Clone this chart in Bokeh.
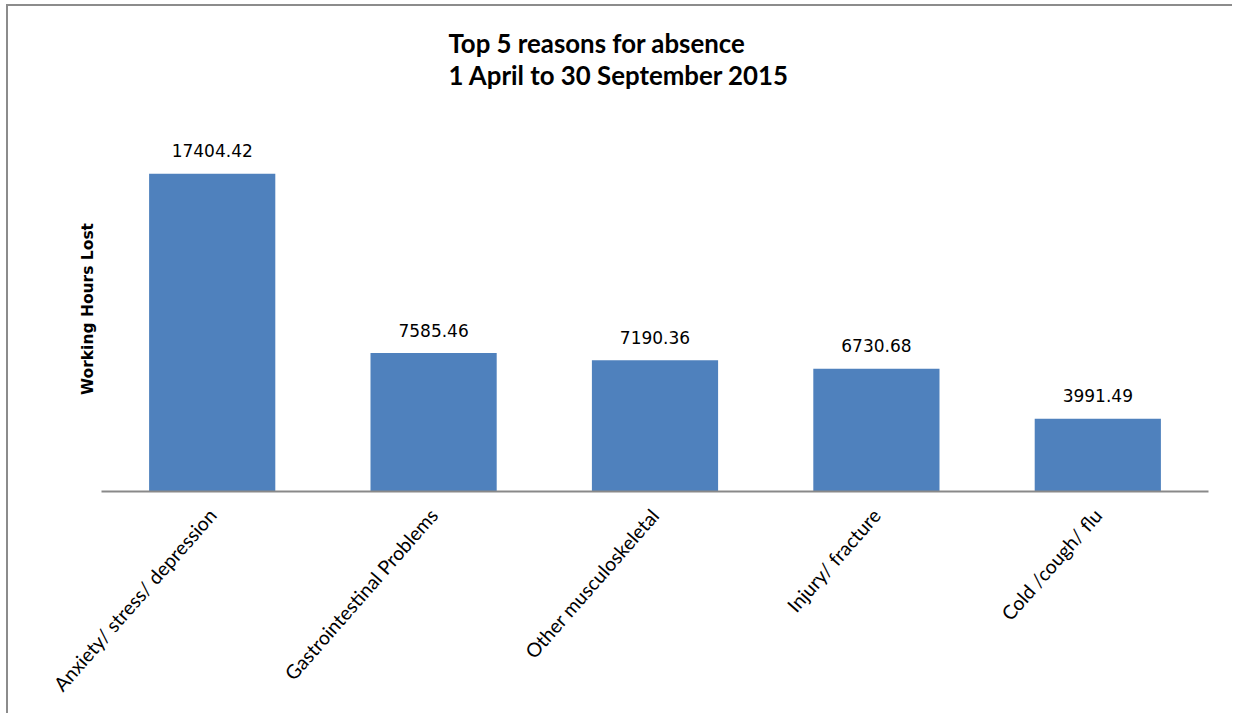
from bokeh.plotting import figure
from bokeh.models import ColumnDataSource, Range1d, Title, FixedTicker
from bokeh.core.properties import value
from bokeh.embed import file_html
from bokeh.resources import INLINE

categories = ["Anxiety/ stress/ depression", "Gastrointestinal Problems",
              "Other musculoskeletal", "Injury/ fracture", "Cold /cough/ flu"]
hours = [17404.42, 7585.46, 7190.36, 6730.68, 3991.49]
value_labels = ["17404.42", "7585.46", "7190.36", "6730.68", "3991.49"]

title_lines = ["Top 5 reasons for absence", "1 April to 30 September 2015"]
y_label = "Working Hours Lost"

W, H = 1234, 715
OX, OY = 8, 6            # canvas offset inside the bordered box
FL, FR, FT, FB = 101, 1208, 126, 491

p = figure(x_range=categories, y_range=Range1d(0, 20000),
           width=W - OX, height=H - OY,
           output_backend="svg", toolbar_location=None,
           min_border_left=FL - OX, min_border_right=W - FR,
           min_border_top=FT - OY, min_border_bottom=H - FB)
p.styles = {"margin-left": f"{OX}px", "margin-top": f"{OY}px",
            "box-shadow": "-2px -2px 0 0 #8c8c8c"}
p.outline_line_color = None
p.background_fill_color = "white"
p.border_fill_color = "white"
p.xgrid.grid_line_color = None
p.ygrid.grid_line_color = None

xa = p.below[0]
ya = p.left[0]

title = Title(text="\n".join(title_lines), align="left", offset=448 - FL,
              standoff=0, text_font="Lato", text_font_style="bold",
              text_font_size="25.8px", text_color="black", text_line_height=1.07)
for pad in (dict(left=0, right=0, top=0, bottom=36), (0, 0, 36, 0)):
    try:
        title.padding = pad
        break
    except Exception:
        pass
p.add_layout(title, "above")

src = ColumnDataSource(dict(cat=categories, hours=hours, lab=value_labels))
p.vbar(x="cat", top="hours", width=0.57, source=src,
       fill_color="#4F81BD", line_color=None)
p.text(x="cat", y="hours", text="lab", source=src, y_offset=-23,
       text_align="center", text_baseline="middle",
       text_font=value("DejaVu Sans"), text_font_size="17px", text_color="black")

xa.axis_line_color = "#898989"
xa.axis_line_width = 2
xa.major_tick_line_color = None
xa.minor_tick_line_color = None
xa.major_label_orientation = 0.85
xa.major_label_text_font = "Lato"
xa.major_label_text_font_size = "19.5px"
xa.major_label_text_color = "black"
xa.major_label_standoff = 14

ya.ticker = FixedTicker(ticks=[])
ya.axis_line_color = None
ya.major_tick_line_color = None
ya.minor_tick_line_color = None
ya.major_label_standoff = 0
ya.axis_label = y_label
ya.axis_label_standoff = 5
ya.axis_label_text_font = "DejaVu Sans"
ya.axis_label_text_font_style = "bold"
ya.axis_label_text_font_size = "15.5px"
ya.axis_label_text_color = "black"

open("out.html", "w").write(file_html(p, INLINE))
